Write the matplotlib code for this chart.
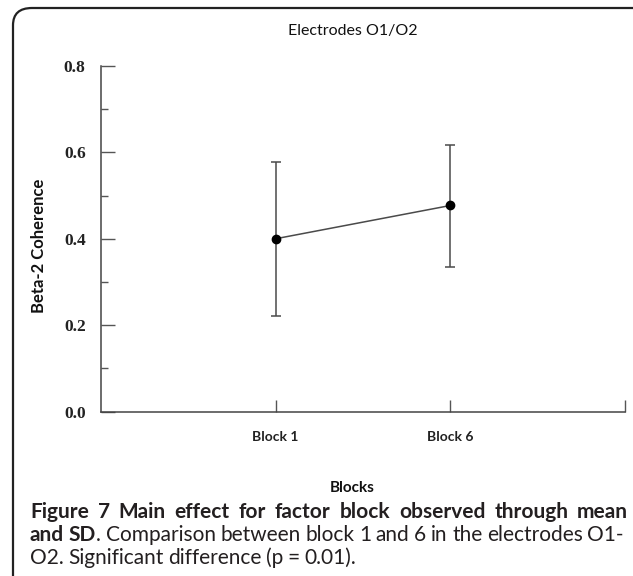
import matplotlib
matplotlib.use("Agg")
import matplotlib.pyplot as plt
from matplotlib.patches import FancyBboxPatch
from matplotlib.ticker import MultipleLocator

# ============ 数据 ============
blocks = ["Block 1", "Block 6"]
means = [0.400, 0.477]
lower = [0.221, 0.335]   # mean - SD
upper = [0.578, 0.618]   # mean + SD
y_ticks = [0.0, 0.2, 0.4, 0.6, 0.8]

title = "Electrodes O1/O2"
ylabel = "Beta-2 Coherence"
xlabel = "Blocks"
# 图注：(文字, 是否粗体)
cap_line1 = [("Figure 7 Main effect for factor block observed through mean", True)]
cap_line2 = [("and SD", True),
             (". Comparison between block 1 and 6 in the electrodes O1-", False)]
cap_line3 = [("O2. Significant difference (p = 0.01).", False)]

W, H = 633, 576
fig = plt.figure(figsize=(W / 100, H / 100), dpi=100)

# 圆角外框（右侧和底部被裁掉）
box = FancyBboxPatch((13 / W, -20 / H), (W + 20) / W, (H - 8 + 20) / H,
                     boxstyle="round,pad=0,rounding_size=0.03",
                     transform=fig.transFigure, fill=False,
                     edgecolor="#222222", linewidth=1.6)
fig.patches.append(box)

ax = fig.add_axes([101 / W, 1 - 411.5 / H, 524 / W, 345.5 / H])

x = [1, 2]
err = [[m - lo for m, lo in zip(means, lower)],
       [up - m for m, up in zip(means, upper)]]
ax.errorbar(x, means, yerr=err, fmt="none", ecolor="#4a4a4a",
            elinewidth=1.1, capsize=3.4, capthick=1.1)
ax.plot(x, means, color="#4a4a4a", linewidth=1.1, zorder=3)
ax.plot(x, means, "o", color="black", markersize=6, zorder=4)

ax.set_xlim(0, 3)
ax.set_ylim(0, 0.8)
ax.set_xticks([1, 2, 3])
ax.set_xticklabels(blocks + [""], fontfamily="Lato", fontweight="bold",
                   fontsize=10, color="#222222")
ax.set_yticks(y_ticks)
ax.set_yticklabels([f"{v:.1f}" for v in y_ticks], fontfamily="Liberation Serif",
                   fontweight="bold", fontsize=12.5, color="#222222")
ax.yaxis.set_minor_locator(MultipleLocator(0.1))
ax.tick_params(axis="y", which="major", direction="in", length=10,
               width=1, color="#555555", pad=11)
ax.tick_params(axis="y", which="minor", direction="in", length=5,
               width=1, color="#555555")
ax.tick_params(axis="x", which="major", direction="in", length=9,
               width=1, color="#555555", pad=14)

for s in ["top", "right"]:
    ax.spines[s].set_visible(False)
for s in ["left", "bottom"]:
    ax.spines[s].set_color("#444444")
    ax.spines[s].set_linewidth(1.1)

# 标题与轴标签
fig.text(353 / W, 1 - 31 / H, title, ha="center", va="center",
         fontfamily="Lato", fontsize=11.5, color="#111111")
fig.text(39 / W, 1 - 246 / H, ylabel, ha="center", va="center", rotation=90,
         fontfamily="Lato", fontweight="bold", fontsize=12, color="#111111")
fig.text(352 / W, 1 - 488 / H, xlabel, ha="center", va="center",
         fontfamily="Lato", fontweight="bold", fontsize=11, color="#111111")


# 图注（两端对齐）
def caption_line(parts, base_px, x0=30, x1=628, justify=True):
    pieces = []
    for txt, bold in parts:
        words = txt.split(" ")
        for i, w in enumerate(words):
            # 标点紧跟前一段
            glue = (i == 0 and pieces and not w[:1].isalnum())
            pieces.append((w, bold, glue))
    r = fig.canvas.get_renderer()
    objs = []
    for w, bold, glue in pieces:
        t = fig.text(0, 1 - base_px / H, w, va="baseline", fontfamily="Lato",
                     fontsize=15, fontweight="bold" if bold else "normal",
                     color="#231f20")
        objs.append((t, t.get_window_extent(r).width, glue))
    total = sum(wd for _, wd, _ in objs)
    n_gaps = sum(1 for i, (_, _, g) in enumerate(objs) if i > 0 and not g)
    gap = (x1 - x0 - total) / n_gaps if (justify and n_gaps) else 4.5
    xp = x0
    for i, (t, wd, glue) in enumerate(objs):
        if i > 0 and not glue:
            xp += gap
        t.set_x(xp / W)
        xp += wd


fig.canvas.draw()
caption_line(cap_line1, 518)
caption_line(cap_line2, 541, x1=624)
caption_line(cap_line3, 564, justify=False)

fig.savefig("out.png", dpi=100, facecolor="white")
